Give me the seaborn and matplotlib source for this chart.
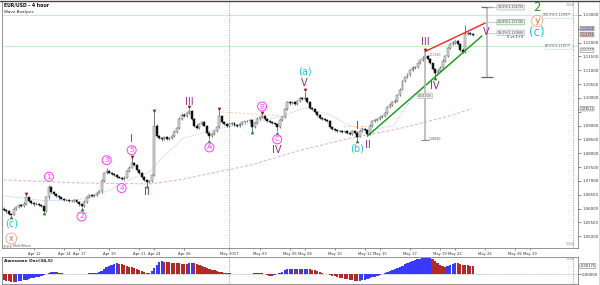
import matplotlib
matplotlib.use("Agg")
import matplotlib.pyplot as plt
from matplotlib.transforms import blended_transform_factory
import numpy as np
import pandas as pd
import seaborn as sns

# ---------------- data (EUR/USD 4h, Apr 10 - May 23 2017) ----------------
open_first = 1.0600
close = [
    1.0595, 1.0590, 1.0582, 1.0578, 1.0598, 1.0606,  # Apr 10
    1.0612, 1.0608, 1.0618, 1.0640, 1.0628, 1.0620,  # Apr 11
    1.0615, 1.0618, 1.0612, 1.0608, 1.0592, 1.0640,  # Apr 12
    1.0678, 1.0660, 1.0652, 1.0645, 1.0640, 1.0636,  # Apr 13
    1.0632, 1.0630, 1.0628, 1.0626, 1.0630, 1.0624,  # Apr 14
    1.0615, 1.0610, 1.0625, 1.0640, 1.0648, 1.0645,  # Apr 17
    1.0650, 1.0658, 1.0662, 1.0700, 1.0728, 1.0736,  # Apr 18
    1.0730, 1.0725, 1.0722, 1.0715, 1.0712, 1.0708,  # Apr 19
    1.0712, 1.0735, 1.0748, 1.0765, 1.0758, 1.0740,  # Apr 20
    1.0728, 1.0715, 1.0705, 1.0695, 1.0700, 1.0722,  # Apr 21
    1.0900, 1.0862, 1.0855, 1.0850, 1.0858, 1.0852,  # Apr 24
    1.0855, 1.0862, 1.0878, 1.0892, 1.0925, 1.0940,  # Apr 25
    1.0935, 1.0945, 1.0952, 1.0925, 1.0900, 1.0890,  # Apr 26
    1.0905, 1.0914, 1.0900, 1.0875, 1.0862, 1.0870,  # Apr 27
    1.0880, 1.0895, 1.0935, 1.0912, 1.0905, 1.0898,  # Apr 28
    1.0905, 1.0910, 1.0902, 1.0898, 1.0906, 1.0912,  # May 1
    1.0915, 1.0918, 1.0920, 1.0895, 1.0910, 1.0925,  # May 2
    1.0930, 1.0934, 1.0925, 1.0918, 1.0912, 1.0908,  # May 3
    1.0905, 1.0895, 1.0920, 1.0930, 1.0960, 1.0985,  # May 4
    1.0980, 1.0984, 1.0978, 1.0990, 1.0998, 1.0995,  # May 5
    1.1000, 1.0985, 1.0965, 1.0960, 1.0948, 1.0938,  # May 8
    1.0928, 1.0925, 1.0922, 1.0915, 1.0895, 1.0888,  # May 9
    1.0885, 1.0882, 1.0880, 1.0876, 1.0879, 1.0872,  # May 10
    1.0870, 1.0880, 1.0875, 1.0860, 1.0880, 1.0888,  # May 11
    1.0885, 1.0870, 1.0900, 1.0915, 1.0920, 1.0925,  # May 12
    1.0930, 1.0935, 1.0945, 1.0968, 1.0975, 1.0985,  # May 15
    1.0990, 1.1010, 1.1030, 1.1060, 1.1075, 1.1085,  # May 16
    1.1100, 1.1110, 1.1112, 1.1125, 1.1138, 1.1145,  # May 17
    1.1150, 1.1140, 1.1125, 1.1105, 1.1090, 1.1098,  # May 18
    1.1110, 1.1135, 1.1150, 1.1180, 1.1195, 1.1200,  # May 19
    1.1205, 1.1195, 1.1175, 1.1165, 1.1230, 1.1236,  # May 22
    1.1232, 1.1229,                                  # May 23
]
# wick lengths in pips above max(open, close) / below min(open, close)
wick_up = [
    4, 3, 4, 3, 5, 4,   4, 3, 5, 6, 3, 4,   3, 4, 3, 4, 3, 5,   8, 4, 3, 4, 3, 3,
    3, 4, 3, 4, 3, 4,   4, 3, 5, 4, 5, 3,   4, 3, 4, 6, 5, 10,  4, 3, 4, 3, 4, 3,
    5, 4, 5, 17, 4, 3,  4, 3, 4, 3, 5, 4,   48, 5, 4, 3, 5, 4,  3, 4, 5, 4, 6, 5,
    5, 4, 9, 4, 3, 4,   5, 4, 4, 3, 4, 3,   4, 5, 19, 4, 3, 4,  4, 3, 4, 3, 4, 3,
    3, 4, 5, 3, 4, 5,   4, 6, 3, 4, 3, 4,   3, 4, 5, 4, 5, 4,   5, 4, 5, 4, 6, 4,
    22, 4, 5, 3, 4, 3,  4, 3, 4, 3, 4, 3,   3, 4, 3, 4, 3, 4,   4, 5, 3, 4, 5, 8,
    4, 3, 5, 4, 3, 4,   3, 4, 5, 4, 5, 4,   5, 6, 5, 6, 5, 4,   4, 5, 4, 5, 4, 5,
    18, 4, 5, 3, 4, 5,  4, 5, 4, 5, 4, 5,   5, 4, 3, 4, 34, 6,  4, 3,
]
wick_dn = [
    4, 5, 4, 3, 3, 4,   3, 4, 3, 4, 3, 4,   4, 3, 4, 3, 4, 3,   4, 3, 4, 3, 4, 3,
    3, 4, 3, 4, 3, 4,   4, 6, 3, 4, 3, 4,   3, 4, 3, 4, 3, 4,   3, 4, 3, 4, 3, 5,
    4, 3, 4, 3, 4, 3,   4, 3, 4, 10, 3, 4,  3, 4, 5, 4, 3, 4,   4, 3, 4, 3, 4, 3,
    4, 3, 4, 3, 4, 3,   3, 4, 3, 4, 12, 3,  4, 3, 4, 3, 4, 3,   3, 4, 3, 4, 3, 4,
    4, 3, 4, 13, 3, 4,  3, 4, 3, 4, 3, 4,   4, 16, 3, 4, 3, 4,  4, 3, 4, 3, 4, 3,
    4, 3, 4, 3, 4, 3,   4, 3, 4, 3, 4, 3,   3, 4, 3, 4, 3, 4,   4, 3, 4, 12, 3, 4,
    4, 8, 3, 4, 3, 4,   3, 4, 3, 4, 3, 4,   4, 3, 4, 3, 4, 3,   4, 3, 4, 3, 4, 3,
    3, 4, 3, 4, 14, 3,  4, 3, 4, 3, 4, 3,   4, 3, 4, 3, 4, 3,   3, 4,
]
# Awesome Oscillator (34,5), in pips
ao = [
    -12, -13, -14, -15, -16,
    -15, -14, -13, -12, -11, -10, -8, -7, -6, -5, -3, -1, 1,
    3, 5, 6,
    5, 4, 3, 2, 1.5,
    1, 1.2, 0.8, 1, 0.9, 1.1, 1.5, 2,
    2.5, 3, 3.2, 3.5, 5,
    8, 12, 15, 18, 20, 22, 23,
    22, 21, 19, 18, 16, 15, 13, 12, 10, 8, 6, 4,
    3,
    8, 14, 20, 25, 27,
    26, 25.5, 25, 24.5, 24, 23.5, 23, 22.5, 22, 21.8,
    23, 24.5,
    23.5, 22, 20, 18, 16, 14, 12, 10, 8.5, 7, 6, 5, 4, 3.5, 3,
    2, 1.5, 1.8, 1.2, 1.4, 1.0, 1.3, 1.6, 2.0, 2.5, 3,
    3.2, 2.5, 1,
    -1, -2.5, -3,
    -2, 0, 3, 6, 9, 10.5,
    11, 11.5, 11, 12, 12.2, 11.5, 12, 12.3,
    11.5, 10, 8.5, 7, 5, 3.5, 2, 0.5, -1, -2.5,
    -4, -5.5, -7, -8, -9, -10, -11, -12, -13,
    -13.5,
    -13, -12, -11, -9.5, -8, -6, -4.5, -3, -1,
    1, 3, 5, 7, 9, 11, 13, 15,
    18, 21, 24, 26,
    28, 30, 31, 32, 33, 33.5, 33.8, 34.1,
    32, 28, 24, 20, 17, 15,
    17, 20, 22, 23.5,
    23, 22, 20.5, 19.5, 18.5, 18, 17.5,
]
bars_per_day = 6
tick_days = [2, 4, 5, 7, 9, 10, 12, 15, 17, 19, 20, 22, 24, 25, 27, 29, 30, 32, 34, 35]
tick_labels = ["Apr 12", "Apr 14", "Apr 17", "Apr 19", "Apr 21", "Apr 24", "Apr 26",
               "May 2017", "May 03", "May 05", "May 08", "May 10", "May 12", "May 15",
               "May 17", "May 19", "May 22", "May 24", "May 26", "May 29"]
ma_fast_day = [0, 2.6, 4.4, 5.7, 7.1, 8.6, 9.7, 10.5, 11.9, 14.2, 16.4, 18.6, 20.0,
               21.5, 23.0, 24.2, 25.9, 27.0, 27.7, 29.0, 30.3, 31.1]
ma_fast = [1.0646, 1.0629, 1.0629, 1.0639, 1.0668, 1.0711, 1.0732, 1.0782, 1.0854,
           1.0889, 1.0907, 1.0936, 1.0964, 1.0943, 1.0900, 1.0882, 1.0900, 1.0989,
           1.1025, 1.1096, 1.1154, 1.11727]
ma_slow_day = [0, 4.7, 9.7, 11.7, 16.4, 19.7, 23.0, 26.3, 29.7, 31.1]
ma_slow = [1.0704, 1.0693, 1.0689, 1.0704, 1.0757, 1.0811, 1.0854, 1.0889, 1.0936, 1.09612]
resist_lines = [([85.4, 110.2], [1.0950, 1.0936]), ([135.3, 144.9], [1.0900, 1.0900])]
hi_pivots = [9, 51, 60, 74, 86, 103, 120, 168]
lo_pivots = [3, 16, 31, 57, 82, 99, 109, 141, 172]
# (bar, text, style, side)
wave_labels = [
    (3, "(c)", "cyan", "lo"), (3, "x", "orange", "lo"),
    (18, "1", "pink", "hi"), (31, "2", "pink", "lo"), (41, "3", "pink", "hi"),
    (47, "4", "pink", "lo"), (51, "5", "pink", "hi"), (51, "I", "purple", "hi"),
    (57, "II", "purple", "lo"), (74, "III", "purple", "hi"), (82, "A", "pink", "lo"),
    (103, "B", "pink", "hi"), (109, "C", "pink", "lo"), (109, "IV", "purple", "lo"),
    (120, "V", "purple", "hi"), (120, "(a)", "cyan", "hi"), (141, "I", "purple", "lo"),
    (141, "(b)", "cyan", "lo"), (145, "II", "purple", "lo"), (168, "III", "purple", "hi"),
    (172, "IV", "purple", "lo"),
]
wave_offsets_px = [-8, -23, 8, -9, 8, -8, 8, 19, -7, 7, -8, 8, -8, -19, 9, 20, 14, -9, -9, 9, -9]
proj_labels = [(192.3, 1.12385, "V", "purple")]
degree_labels = [(212.7, 1.13289, "2", "green"), (212.7, 1.12783, "y", "orange"),
                 (212.7, 1.12349, "(c)", "cyan")]
red_line = ([168, 192], [1.1168, 1.12711])
green_line_pivots = [145, 172]
green_line_end_bar = 190.7
meas1_bar, meas1_top, meas1_bottom = 168, 168, 141
meas2_bar = 192.7
fib_ext = [0.5, 0.618, 0.786]
fib_levels = [(1.12997, "100.0%(1.12997)"), (1.11877, "88.6%(1.11877)")]
price_tags = [(1.12508, "#c9c9f2"), (1.12291, "#f2c4c4")]

# ---------------- styling ----------------
sns.set_theme(style="white")
plt.rcParams["font.family"] = ["DejaVu Sans"]
C = {"pink": "#ff3cff", "purple": "#8e2a8e", "cyan": "#22c4d8", "orange": "#d9703a",
     "green": "#229922"}

W, H = 600, 285
fig = plt.figure(figsize=(W / 100, H / 100), dpi=100)
fig.patch.set_facecolor("white")


def rect(x0, y0, x1, y1):
    return [x0 / W, 1 - y1 / H, (x1 - x0) / W, (y1 - y0) / H]


ax = fig.add_axes(rect(2, 1, 578, 248))
axo = fig.add_axes(rect(2, 257, 578, 284))

n = len(close)
x = np.arange(n)
c = np.array(close)
o = np.concatenate([[open_first], c[:-1]])
hi = np.maximum(o, c) + np.array(wick_up) * 1e-4
lo = np.minimum(o, c) - np.array(wick_dn) * 1e-4

xl = (-0.72, 229.0)
ax.set_xlim(*xl)
ax.set_ylim(1.04573, 1.13506)
axo.set_xlim(*xl)
axo.set_ylim(-19.6, 36.0)

# fib horizontal levels
for lvl, txt in fib_levels:
    ax.axhline(lvl, color="#c6f0c6", lw=0.8, zorder=1)
    ax.text(226.3, lvl, txt, fontsize=2.3, color="#555", ha="right", va="center", zorder=6,
            bbox=dict(boxstyle="square,pad=0.15", fc="white", ec="#b8e8b8", lw=0.4))

# separators
for bx in [15 * bars_per_day, 227]:
    ax.axvline(bx, color="#999", lw=0.6, ls=(0, (1.5, 1.5)), zorder=1)
    axo.axvline(bx, color="#999", lw=0.6, ls=(0, (1.5, 1.5)), zorder=1)

# moving averages
sns.lineplot(x=np.array(ma_slow_day) * bars_per_day, y=ma_slow, ax=ax, color="#e4a4e4",
             lw=0.7, linestyle=(0, (3, 2)), zorder=1)
sns.lineplot(x=np.array(ma_fast_day) * bars_per_day, y=ma_fast, ax=ax, color="#a8c4f0",
             lw=0.6, linestyle=(0, (1, 1)), zorder=1)
for bx, py in resist_lines:
    sns.lineplot(x=bx, y=py, ax=ax, color="#f6c9a4", lw=0.6, linestyle=(0, (3, 2)), zorder=1)

# candles
ax.vlines(x, lo, hi, color="#444", lw=0.5, zorder=2)
bull = c >= o
ax.bar(x[bull], np.maximum((c - o)[bull], 0.00004), bottom=o[bull], width=0.78,
       color="#dcdcdc", edgecolor="#666666", linewidth=0.35, zorder=3)
ax.bar(x[~bull], (c - o)[~bull], bottom=o[~bull], width=0.78, color="#111",
       edgecolor="#111", linewidth=0.35, zorder=3)

# fractal markers
sns.scatterplot(x=np.array(hi_pivots), y=hi[hi_pivots] + 0.0005, ax=ax, marker="v",
                color="#8a1c1c", s=7, linewidth=0, zorder=5)
sns.scatterplot(x=np.array(lo_pivots), y=lo[lo_pivots] - 0.0005, ax=ax, marker="^",
                color="#1c8a1c", s=7, linewidth=0, zorder=5)

# trend lines
sns.lineplot(x=red_line[0], y=red_line[1], ax=ax, color="#ff2222", lw=1.0, zorder=4)
g0, g1 = green_line_pivots
gslope = (lo[g1] - lo[g0]) / (g1 - g0)
sns.lineplot(x=[g0, green_line_end_bar], y=[lo[g0], lo[g0] + gslope * (green_line_end_bar - g0)],
             ax=ax, color="#119911", lw=1.0, zorder=4)

# measurement 1 (wave 1+3 length)
m_top, m_bot = hi[meas1_top], lo[meas1_bottom]
ax.vlines(meas1_bar, m_bot, m_top, color="#b0b0b0", lw=1.1, zorder=4)
ax.hlines(m_bot, meas1_bar - 1.5, meas1_bar + 1.5, color="#888", lw=0.8, zorder=4)
ax.text(meas1_bar, (m_top + m_bot) / 2, f"{m_top - m_bot:.5f}", fontsize=2.3, color="#555",
        ha="center", va="center", zorder=6,
        bbox=dict(boxstyle="round,pad=0.2", fc="#eeeeee", ec="#aaa", lw=0.4))
ax.text(meas1_bar + 1.3, m_bot + 0.0004, f"{m_bot:.5f}", fontsize=2.2, color="#555",
        ha="left", va="center", zorder=6)
ax.text(meas1_bar + 1.5, m_top - 0.0012, f"{m_top:.5f}", fontsize=2.2, color="#777",
        ha="left", va="center", zorder=6)

# measurement 2 (wave 5 projection)
L = m_top - m_bot
base = lo[172]
levels = [base + f * L for f in fib_ext]
ax.vlines(meas2_bar, base, levels[-1], color="#b0b0b0", lw=1.1, zorder=4)
for yv in [base, levels[-1]]:
    ax.hlines(yv, meas2_bar - 2.5, meas2_bar + 2.5, color="#666", lw=0.9, zorder=4)
edge = {0.5: "#aaa", 0.618: "#44bb44", 0.786: "#aaa"}
for f, yv in zip(fib_ext, levels):
    ax.hlines(yv, meas2_bar, meas2_bar + 4, color="#bbb", lw=0.5, zorder=4)
    ax.text(meas2_bar + 4.2, yv, f"{f * 100:.1f}%({yv:.5f})", fontsize=2.3, color="#444",
            ha="left", va="center", zorder=6,
            bbox=dict(boxstyle="round,pad=0.2", fc="#f0f0f0", ec=edge[f], lw=0.4))
ax.text(meas2_bar + 8, levels[0] - 0.0017, "5 vs 1+3", fontsize=2.6, color="#222",
        ha="left", va="center", zorder=6)


def wave_text(xx, yy, txt, style, size=7.0, circ_size=5.3, dy_pt=0.0):
    if style == "pink":
        ax.annotate(txt, (xx, yy), xytext=(0, dy_pt), textcoords="offset points",
                    fontsize=circ_size, color=C["pink"], ha="center", va="center", zorder=7,
                    bbox=dict(boxstyle="circle,pad=0.2", fc="white", ec=C["pink"], lw=0.7))
    elif style == "orange":
        ax.annotate(txt, (xx, yy), xytext=(0, dy_pt), textcoords="offset points",
                    fontsize=size * 0.8, color=C["orange"], ha="center", va="center", zorder=7,
                    bbox=dict(boxstyle="circle,pad=0.12", fc="white", ec="#eba27e", lw=0.6))
    else:
        ax.annotate(txt, (xx, yy), xytext=(0, dy_pt), textcoords="offset points",
                    fontsize=size, color=C[style], ha="center", va="center", zorder=7)


for (b, txt, style, side), off in zip(wave_labels, wave_offsets_px):
    anchor = hi[b] if side == "hi" else lo[b]
    wave_text(b, anchor, txt, style, dy_pt=off * 0.72)
for b, py, txt, style in proj_labels:
    wave_text(b, py, txt, style)
for b, py, txt, style in degree_labels:
    wave_text(b, py, txt, style, size=8.5)

# axes cosmetics
for a in (ax, axo):
    for s in a.spines.values():
        s.set_color("#808080")
        s.set_linewidth(0.6)
    a.set_facecolor("white")

tags_all = price_tags + [(ma_fast[-1], "white"), (ma_slow[-1], "white")]
yt = np.round(np.arange(1.05, 1.13001, 0.005), 3)
ax.yaxis.tick_right()
ax.set_yticks(yt)
# tick labels hidden where a price tag covers them (as on the trading platform)
ax.set_yticklabels(["" if any(abs(t - pv) < 0.0015 for pv, _ in tags_all) else f"{t:.5f}"
                    for t in yt])
ax.tick_params(axis="y", labelsize=2.8, length=2, width=0.4, pad=1, colors="#333", right=True)
ax.set_xticks(np.array(tick_days) * bars_per_day)
ax.set_xticklabels(tick_labels)
ax.tick_params(axis="x", labelsize=2.7, length=1.5, width=0.4, pad=1.2, colors="#333", bottom=True)
ax.set_xlabel("")
ax.set_ylabel("")

trans = blended_transform_factory(ax.transAxes, ax.transData)
for pv, col in tags_all:
    ax.text(1.004, pv, f"{pv:.5f}", transform=trans, fontsize=2.3, color="#222", ha="left",
            va="center", zorder=8, clip_on=False,
            bbox=dict(boxstyle="round,pad=0.08", fc=col, ec="#777", lw=0.4))

# Awesome oscillator
aov = np.array(ao, dtype=float)
up = np.concatenate([[False], np.diff(aov) > 0])
cols = np.where(up, "#3a3aff", "#b02a2a")
axo.bar(x, aov, width=0.9, color=cols, edgecolor="none", zorder=2)
axo.axhline(0, color="#999", lw=0.5, ls=(0, (1, 1)), zorder=1)
axo.yaxis.tick_right()
axo.set_yticks([0])
axo.set_yticklabels(["0.00000"])
axo.tick_params(axis="y", labelsize=2.8, length=2, width=0.4, pad=1, colors="#333", right=True)
axo.set_xticks([])
axo.text(0.003, 0.86, "Awesome Osc(34,5)", transform=axo.transAxes, fontsize=3.2,
         fontweight="bold", color="#111", ha="left", va="center")
transo = blended_transform_factory(axo.transAxes, axo.transData)
axo.text(1.004, aov[-1], f"{aov[-1] / 1e4:.5f}", transform=transo, fontsize=2.6, color="#222",
         ha="left", va="center", clip_on=False,
         bbox=dict(boxstyle="round,pad=0.12", fc="white", ec="#777", lw=0.4))

# header texts & small decorations
fig.text(4 / W, 1 - 5 / H, "EUR/USD - 4 hour", fontsize=3.3, fontweight="bold", color="#111",
         ha="left", va="center")
fig.text(4 / W, 1 - 11.5 / H, "Wave Analysis", fontsize=3.0, color="#222", ha="left", va="center")
fig.text(3 / W, 1 - 245 / H, "◎◎◎ MultiWave", fontsize=2.4, color="#666", ha="left", va="center")
for yy in [5, 244, 259]:
    fig.text(575 / W, 1 - yy / H, "⊙⊙⊕", fontsize=2.6, color="#999", ha="right", va="center")

fig.add_artist(plt.Line2D([0, 1], [1 - 0.5 / H, 1 - 0.5 / H], transform=fig.transFigure,
                          color="#444", lw=1.0))
fig.add_artist(plt.Line2D([1 - 0.5 / W, 1 - 0.5 / W], [0, 1], transform=fig.transFigure,
                          color="#444", lw=1.0))

fig.savefig("out.png", dpi=100, facecolor="white")
